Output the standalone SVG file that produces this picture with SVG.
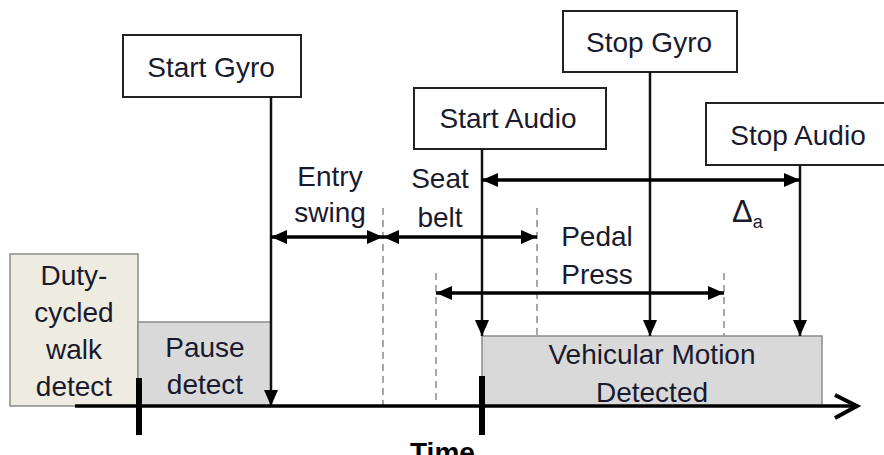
<svg xmlns="http://www.w3.org/2000/svg" width="884" height="455" viewBox="0 0 884 455">
<defs>
<style>
.t{font-family:"Liberation Sans",Arial,sans-serif;font-size:28px;fill:#1a1a2e;text-anchor:middle}
.box{fill:#ffffff;stroke:#222;stroke-width:2}
.st{fill:#d9d9d9;stroke:#8c8c8c;stroke-width:1.5}
.ln{stroke:#111;stroke-width:2.5;fill:none}
.ar{stroke:#000;stroke-width:3.5;fill:none}
.dash{stroke:#8a8a8a;stroke-width:1.5;stroke-dasharray:7,5;fill:none}
.tick{stroke:#000;stroke-width:6}
</style>
<marker id="ah" viewBox="0 0 16 14" refX="16" refY="7" markerWidth="16" markerHeight="14" markerUnits="userSpaceOnUse" orient="auto-start-reverse">
<path d="M0,0 L16,7 L0,14 Z" fill="#000"/>
</marker>
</defs>
<rect width="884" height="455" fill="#fff"/>

<g id="duty-cycled">
<rect x="10" y="254" width="128" height="152" fill="#eeece1" stroke="#8c8c8c" stroke-width="1.5"/>
<text class="t" x="74" y="285">Duty-</text>
<text class="t" x="74" y="322">cycled</text>
<text class="t" x="74" y="359">walk</text>
<text class="t" x="74" y="396">detect</text>
</g>
<g id="pause-detect">
<rect class="st" x="138" y="322" width="133" height="84"/>
<text class="t" x="205" y="357">Pause</text>
<text class="t" x="205" y="394">detect</text>
</g>
<g id="vehicular-motion">
<rect class="st" x="482" y="336" width="340" height="70"/>
<text class="t" x="652" y="364">Vehicular Motion</text>
<text class="t" x="652" y="402">Detected</text>
</g>

<g id="start-gyro">
<rect class="box" x="123" y="35" width="178" height="62"/>
<text class="t" x="211" y="77">Start Gyro</text>
</g>
<g id="stop-gyro">
<rect class="box" x="563" y="11" width="174" height="61"/>
<text class="t" x="649" y="52">Stop Gyro</text>
</g>
<g id="start-audio">
<rect class="box" x="414" y="88" width="192" height="61"/>
<text class="t" x="508" y="128">Start Audio</text>
</g>
<g id="stop-audio">
<rect class="box" x="706" y="103" width="180" height="62"/>
<text class="t" x="798" y="145">Stop Audio</text>
</g>

<g id="labels">
<text class="t" x="330" y="186">Entry</text>
<text class="t" x="330" y="222">swing</text>
<text class="t" x="440" y="188">Seat</text>
<text class="t" x="440" y="227">belt</text>
<text class="t" x="597" y="246">Pedal</text>
<text class="t" x="597" y="284">Press</text>
<text x="732" y="222" style="font-family:'Liberation Sans',Arial,sans-serif;font-size:31px;fill:#1a1a2e">Δ<tspan dx="0" dy="6" style="font-size:18px">a</tspan></text>
<text x="410" y="462" style="font-family:'Liberation Sans',Arial,sans-serif;font-size:28px;font-weight:bold;fill:#000">Time</text>
</g>

<g id="connectors">
<line class="dash" x1="383" y1="208" x2="383" y2="406"/>
<line class="dash" x1="537" y1="208" x2="537" y2="336"/>
<line class="dash" x1="436" y1="273" x2="436" y2="406"/>
<line class="dash" x1="724" y1="273" x2="724" y2="336"/>

<line class="ln" x1="271" y1="97" x2="271" y2="406" marker-end="url(#ah)"/>
<line class="ln" x1="482" y1="149" x2="482" y2="336" marker-end="url(#ah)"/>
<line class="ln" x1="650" y1="72" x2="650" y2="336" marker-end="url(#ah)"/>
<line class="ln" x1="800" y1="165" x2="800" y2="336" marker-end="url(#ah)"/>

<line class="ar" x1="271" y1="237" x2="383" y2="237" marker-start="url(#ah)" marker-end="url(#ah)"/>
<line class="ar" x1="383" y1="237" x2="537" y2="237" marker-start="url(#ah)" marker-end="url(#ah)"/>
<line class="ar" x1="436" y1="293" x2="724" y2="293" marker-start="url(#ah)" marker-end="url(#ah)"/>
<line class="ar" x1="482" y1="180" x2="800" y2="180" marker-start="url(#ah)" marker-end="url(#ah)"/>

<line x1="75" y1="406" x2="856" y2="406" stroke="#000" stroke-width="3.5"/>
<polyline points="835,395 857,406 835,418" fill="none" stroke="#000" stroke-width="4"/>
<line class="tick" x1="139" y1="378" x2="139" y2="435"/>
<line class="tick" x1="482" y1="376" x2="482" y2="435"/>
</g>
</svg>
